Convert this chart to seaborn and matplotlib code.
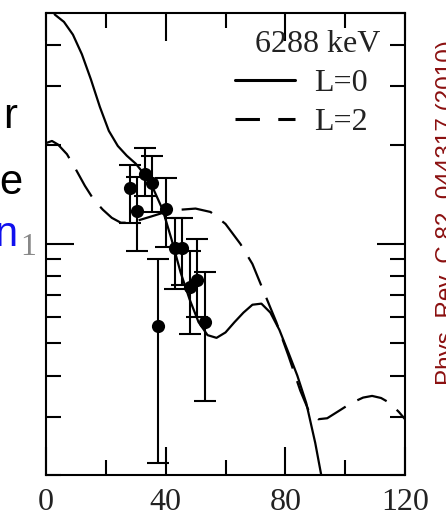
import numpy as np
import pandas as pd
import matplotlib
matplotlib.use("Agg")
import matplotlib.pyplot as plt
from matplotlib import ticker
from matplotlib.lines import Line2D
import seaborn as sns

# ---------------- data ----------------
theta_L0 = [0, 3, 6, 9, 12, 15, 18, 21, 24, 27, 30, 33, 36, 39, 42, 45, 48, 51,
            54, 57, 60, 63, 66, 69, 72, 75, 78, 81, 84, 87, 90, 92, 93]
sigma_L0 = [5.6, 4.94, 4.7, 4.3, 3.75, 3.15, 2.6, 2.2, 1.98, 1.85, 1.75, 1.62,
            1.46, 1.27, 1.03, 0.82, 0.68, 0.58, 0.53, 0.52, 0.54, 0.58, 0.62,
            0.655, 0.66, 0.62, 0.55, 0.47, 0.40, 0.33, 0.25, 0.20, 0.18]

theta_L2 = [0, 2, 4, 7, 10, 13, 16, 19, 22, 25, 28, 31, 35, 40, 45, 50, 55, 60,
            65, 69, 73, 77, 81, 85, 88, 91, 94, 98, 102, 106, 109, 112, 115, 118, 120]
sigma_L2 = [2.02, 2.05, 2.0, 1.87, 1.68, 1.5, 1.36, 1.27, 1.2, 1.16, 1.16, 1.18,
            1.21, 1.25, 1.27, 1.28, 1.25, 1.15, 1.0, 0.87, 0.71, 0.58, 0.46, 0.36,
            0.31, 0.295, 0.297, 0.313, 0.33, 0.343, 0.347, 0.342, 0.33, 0.31, 0.295]

theta_exp = [28, 30.5, 33, 35.5, 37.5, 40, 43, 45.5, 48, 50.5, 53]
sigma_exp = [1.48, 1.26, 1.63, 1.53, 0.565, 1.28, 0.97, 0.97, 0.74, 0.78, 0.58]
sigma_lo = [1.16, 0.95, 1.40, 1.25, 0.217, 0.98, 0.73, 0.75, 0.535, 0.60, 0.336]
sigma_hi = [1.73, 1.60, 1.95, 1.84, 0.90, 1.58, 1.20, 1.20, 0.95, 1.035, 0.82]

energy_label = "6288 keV"
legend_labels = ["L=0", "L=2"]
xtick_vals = [0, 40, 80, 120]
slide_words = ["r", "e", "n"]
side_note = "Phys. Rev. C 82, 044317 (2010)"

# ---------------- figure ----------------
sns.set_theme(style="ticks")
plt.rcParams["font.family"] = ["Liberation Serif", "DejaVu Serif"]

W, H = 446, 515
fig = plt.figure(figsize=(W / 100, H / 100), dpi=100)
ax = fig.add_axes([46 / W, 40 / H, 359 / W, 462 / H])

df0 = pd.DataFrame({"theta": theta_L0, "sigma": sigma_L0})
df2 = pd.DataFrame({"theta": theta_L2, "sigma": sigma_L2})
sns.lineplot(data=df0, x="theta", y="sigma", ax=ax, color="black", lw=1.6,
             sort=False, estimator=None)
sns.lineplot(data=df2, x="theta", y="sigma", ax=ax, color="black", lw=1.6,
             sort=False, estimator=None)
ax.lines[1].set_dashes((14, 6))

lo = np.array(sigma_exp) - np.array(sigma_lo)
hi = np.array(sigma_hi) - np.array(sigma_exp)
ax.errorbar(theta_exp, sigma_exp, yerr=[lo, hi], fmt="none", ecolor="black",
            elinewidth=1.5, capsize=8, capthick=1.5, zorder=3)
sns.scatterplot(x=theta_exp, y=sigma_exp, ax=ax, color="black", s=90,
                edgecolor="black", linewidth=0, zorder=4)

ax.set_yscale("log")
ax.set_xlim(0, 120)
ax.set_ylim(0.2, 5)
ax.set_xticks(xtick_vals)
ax.xaxis.set_minor_locator(ticker.MultipleLocator(20))
ax.yaxis.set_major_locator(ticker.LogLocator(base=10))
ax.yaxis.set_minor_locator(ticker.LogLocator(base=10, subs=np.arange(2, 10)))
ax.yaxis.set_major_formatter(ticker.FuncFormatter(lambda v, p: f"{v:g}"))
ax.yaxis.set_minor_formatter(ticker.NullFormatter())
ax.set_xlabel("")
ax.set_ylabel("")

ax.tick_params(which="both", direction="in", top=True, right=True,
               color="black", width=1.5)
ax.tick_params(which="major", length=20)
ax.tick_params(which="minor", length=11)
ax.tick_params(axis="x", which="major", labelsize=23, labelcolor="#222222", pad=9)
ax.tick_params(axis="y", which="major", labelsize=23, labelcolor="#888888", pad=7)
for s in ax.spines.values():
    s.set_linewidth(1.5)
    s.set_color("black")
    s.set_visible(True)

# energy label and legend
ax.text((380 - 46) / 359, (475 - 45) / 462, energy_label, transform=ax.transAxes,
        ha="right", va="center", fontsize=23, color="#222222")
handles = [Line2D([], [], color="black", lw=2.2),
           Line2D([], [], color="black", lw=2.2, dashes=(8, 6))]
leg = ax.legend(handles, legend_labels, loc="upper right",
                bbox_to_anchor=((368 - 46) / 359, (475 - 69) / 462),
                frameon=False, fontsize=23, handlelength=1.9,
                handletextpad=0.6, labelspacing=0.3, borderaxespad=0,
                borderpad=0)
for t in leg.get_texts():
    t.set_color("#222222")

# slide text fragments at the left edge
slide_pos = [(17, 128, "black"), (22, 194, "black"), (17, 246, "#1010ee")]
for (xp, yp, c), w in zip(slide_pos, slide_words):
    fig.text(xp / W, 1 - yp / H, w, ha="right", va="baseline", fontsize=30,
             color=c, family=["Liberation Sans", "DejaVu Sans"])

fig.text(436 / W, 1 - 385 / H, side_note, rotation=90, rotation_mode="anchor",
         ha="left", va="top", fontsize=17.5, color="#8b1010",
         family=["Liberation Sans", "DejaVu Sans"])

fig.savefig("out.png", dpi=100)
